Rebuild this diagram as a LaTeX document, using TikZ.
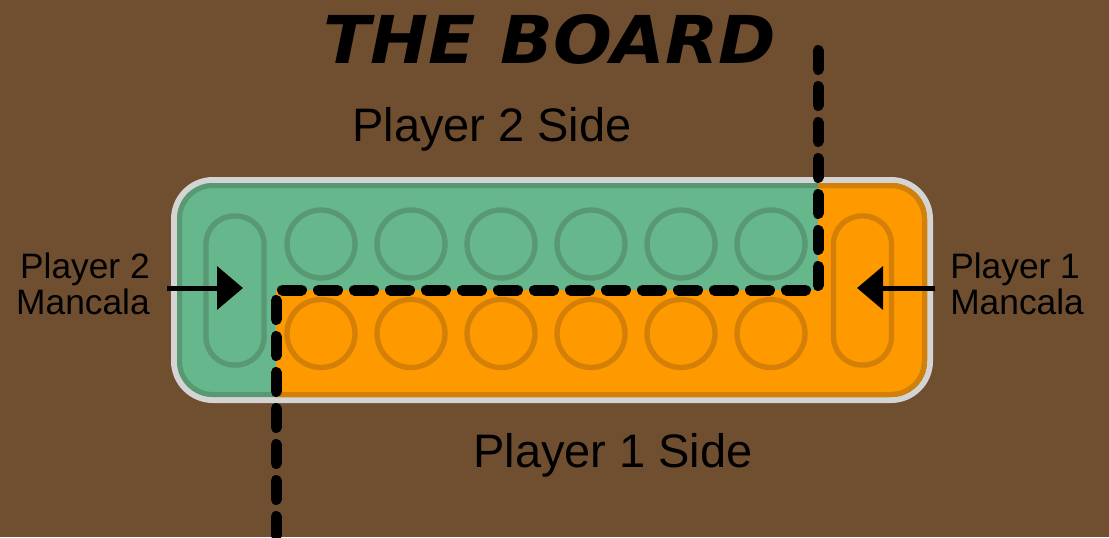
\documentclass[tikz,border=0pt]{standalone}
\usepackage{fontspec}
\setmainfont{Liberation Sans}
\newfontfamily\titlefont{DejaVu Sans}
\usetikzlibrary{arrows.meta}
\definecolor{bgbrown}{RGB}{112,79,49}
\definecolor{boardgreen}{RGB}{102,183,139}
\definecolor{darkgreen}{RGB}{88,152,114}
\definecolor{boardorange}{RGB}{255,153,0}
\definecolor{darkorange}{RGB}{212,128,8}
\definecolor{rimgray}{RGB}{212,212,212}
\tikzset{
  pitgreen/.style={circle, draw=darkgreen, line width=4pt, minimum size=51pt, inner sep=0pt},
  pitorange/.style={circle, draw=darkorange, line width=4pt, minimum size=51pt, inner sep=0pt},
  storegreen/.style={draw=darkgreen, line width=4pt, rounded corners=21pt, minimum width=43.5pt, minimum height=111.75pt, inner sep=0pt},
  storeorange/.style={draw=darkorange, line width=4pt, rounded corners=21pt, minimum width=43.5pt, minimum height=111.75pt, inner sep=0pt},
  pointer/.style={line width=3.75pt, -{Triangle[length=19.5pt, width=32pt]}},
  divider/.style={line width=8.25pt, line cap=round, line join=round, dash pattern=on 14.25pt off 12.75pt},
  sidelabel/.style={inner sep=0pt, font=\fontsize{35.25}{42}\selectfont},
  storelabel/.style={inner sep=0pt, font=\fontsize{26.5}{27}\selectfont}
}
\begin{document}
\begin{tikzpicture}[x=0.75pt,y=-0.75pt]
\useasboundingbox (0,0) rectangle (1109,537);
\fill[bgbrown] (0,0) rectangle (1109,537);

% title
\node[inner sep=0pt, anchor=base, xscale=1.05, font=\titlefont\bfseries\itshape\fontsize{49.5}{56}\selectfont] (title) at (550,63) {THE BOARD};

% board
\fill[rimgray, rounded corners=31.5pt] (171,177) rectangle (933,403);
\begin{scope}
  \clip[rounded corners=27pt] (177,183) rectangle (927,397);
  \fill[boardgreen] (177,183) rectangle (927,397);
  \fill[boardorange] (818,170) -- (940,170) -- (940,410) -- (276,410) -- (276,290) -- (818,290) -- cycle;
  \draw[darkgreen, line width=7.5pt, rounded corners=27pt] (177,183) rectangle (927,397);
  \begin{scope}
    \clip (818,170) -- (940,170) -- (940,410) -- (276,410) -- (276,290) -- (818,290) -- cycle;
    \draw[darkorange, line width=7.5pt, rounded corners=27pt] (177,183) rectangle (927,397);
  \end{scope}
\end{scope}

% pits
\foreach \i in {0,...,5} {
  \node[pitgreen] (top\i) at (321+90*\i,244) {};
  \node[pitorange] (bot\i) at (321+90*\i,333.5) {};
}
% stores
\node[storegreen] (store2) at (235,290.5) {};
\node[storeorange] (store1) at (862.5,290.5) {};

% labels
\node[sidelabel, anchor=base] (p2side) at (492,141) {Player 2 Side};
\node[sidelabel, anchor=base] (p1side) at (613,467) {Player 1 Side};
\node[storelabel, align=right, anchor=north east] (p2store) at (150,253) {Player 2\\Mancala};
\node[storelabel, align=left, anchor=north west] (p1store) at (950,253) {Player 1\\Mancala};

% arrows
\coordinate (a2s) at (167,288);
\coordinate (a2e) at (243,288);
\coordinate (a1s) at (935,288);
\coordinate (a1e) at (857,288);
\draw[pointer] (a2s) -- (a2e);
\draw[pointer] (a1s) -- (a1e);

% dividing line
\coordinate (d0) at (818,50.5);
\coordinate (d1) at (818,290);
\coordinate (d2) at (276,290);
\coordinate (d3) at (276,560);
\draw[divider] (d0) -- (d1) -- (d2) -- (d3);
\end{tikzpicture}
\end{document}
